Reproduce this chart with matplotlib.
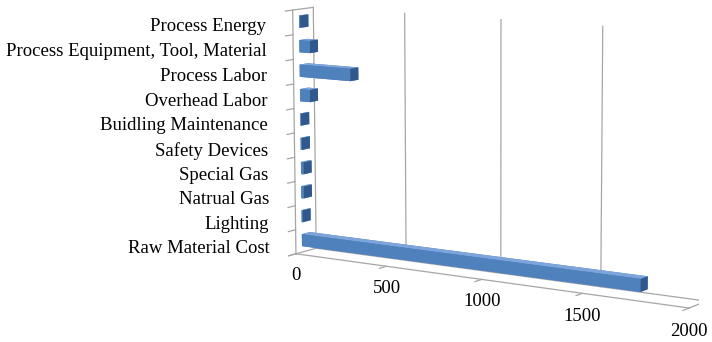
import numpy as np
import matplotlib.pyplot as plt
from mpl_toolkits.mplot3d import proj3d

categories = ["Raw Material Cost", "Lighting", "Natrual Gas", "Special Gas",
              "Safety Devices", "Buidling Maintenance", "Overhead Labor",
              "Process Labor", "Process Equipment, Tool, Material", "Process Energy"]
values = [1750, 5, 14, 14, 6, 4, 55, 280, 58, 6]
value_ticks = [0, 500, 1000, 1500, 2000]

plt.rcParams['font.family'] = ['Liberation Serif', 'DejaVu Serif']

fig = plt.figure(figsize=(7.12, 3.42), dpi=100)
ax = fig.add_axes([0.322, -0.08, 0.72, 1.25], projection='3d',
                  proj_type='persp', focal_length=1.0)
ax.set_axis_off()
ax.set_xticks([])
ax.set_yticks([])
ax.set_zticks([])

n = len(categories)
depth = 1.0
xmax = value_ticks[-1]
ax.set_xlim(0, xmax)
ax.set_ylim(0, depth)
ax.set_zlim(0, n)
ax.set_box_aspect((1.0, 0.075, 0.55), zoom=1.22)
ax.view_init(elev=9, azim=-57)

grid = dict(color='#a6a6a6', lw=0.9)

# back wall gridlines
for v in value_ticks[1:]:
    ax.plot([v, v], [depth, depth], [0, n], **grid)

# side wall outline
ax.plot([0, 0], [0, 0], [0, n], **grid)
ax.plot([0, 0], [depth, depth], [0, n], **grid)
ax.plot([0, 0], [0, depth], [n, n], **grid)
ax.plot([0, 0], [0, depth], [0, 0], **grid)

# floor outline
ax.plot([0, xmax], [0, 0], [0, 0], **grid)
ax.plot([0, xmax], [depth, depth], [0, 0], **grid)
ax.plot([xmax, xmax], [0, depth], [0, 0], **grid)

# tick marks
for v in value_ticks:
    ax.plot([v, v], [0, -0.35], [0, 0], **grid)
for k in range(n + 1):
    ax.plot([0, 0], [0, -0.35], [k, k], **grid)

# bars
thick = 0.5
y0, dy = 0.3, 0.4
z = np.arange(n) + 0.5 - thick / 2
face_cols = ['#4f81bd', '#7da5dc', '#4f81bd', '#4f81bd', '#4f81bd', '#30588c']
ax.bar3d(np.zeros(n), np.full(n, y0), z, values, np.full(n, dy),
         np.full(n, thick), color=face_cols * n, shade=False,
         edgecolor='none')

# labels are placed in projected 2D coordinates
fig.canvas.draw()


def proj(x, y, zz):
    px, py, _ = proj3d.proj_transform(x, y, zz, ax.M)
    return px, py


for k, name in enumerate(categories):
    px, py = proj(0, -1.25, k + 0.5)
    ax.text2D(px, py, name, transform=ax.transData, ha='right', va='center',
              fontsize=13.5)
for v in value_ticks:
    px, py = proj(v, 0, -0.55)
    ax.text2D(px, py, str(v), transform=ax.transData, ha='center', va='top',
              fontsize=13.5)

fig.savefig('out.png', dpi=100)
